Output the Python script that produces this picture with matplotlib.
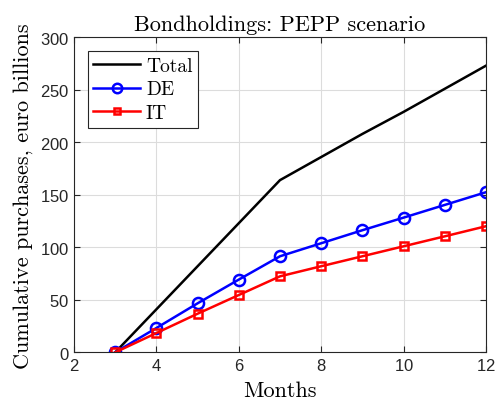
import numpy as np
import matplotlib
matplotlib.use("Agg")
from matplotlib import pyplot as plt

# monthly cumulative purchases, euro billions
months = [3, 4, 5, 6, 7, 8, 9, 10, 11, 12]
total = [0, 41, 82, 123, 164, 186, 208, 229, 251, 273]
de = [0, 23.2, 46.7, 69.3, 91.5, 103.9, 116.3, 128.3, 140.4, 152.5]
it = [0, 18.4, 36.8, 54.6, 72.4, 82.0, 91.5, 101.0, 110.5, 120.1]

plt.rcParams['mathtext.fontset'] = 'cm'
plt.rcParams['axes.formatter.use_mathtext'] = True
serif = {'family': 'cmr10'}

fig = plt.figure(figsize=(4.95, 4.02), dpi=100)
ax = fig.add_axes([0.1495, 0.121, 0.8323, 0.7837])

ax.plot(months, total, color='k', lw=1.8, label='Total')
ax.plot(months, de, color='#0000ff', lw=1.8, marker='o', ms=8,
        mfc='none', mew=1.8, label='DE')
ax.plot(months, it, color='#ff0000', lw=1.8, marker='s', ms=5.5,
        mfc='none', mew=1.8, label='IT')

ax.set_xlim(2, 12)
ax.set_ylim(0, 300)
ax.set_xticks([2, 4, 6, 8, 10, 12])
ax.set_yticks(np.arange(0, 301, 50))
ax.grid(True, color='#dcdcdc', lw=0.8)
ax.set_axisbelow(True)
ax.tick_params(direction='in', top=True, right=True, length=4,
               labelsize=12, colors='#262626')
for lab in ax.get_xticklabels() + ax.get_yticklabels():
    lab.set_family('Liberation Sans')
for s in ax.spines.values():
    s.set_color('#262626')
    s.set_linewidth(0.8)

ax.set_title('Bondholdings: PEPP scenario', fontdict=serif, fontsize=16, pad=5)
ax.set_xlabel('Months', fontdict=serif, fontsize=16, labelpad=5)
ax.set_ylabel('Cumulative purchases, euro billions', fontdict=serif,
              fontsize=16, labelpad=5)

leg = ax.legend(loc='upper left', prop={'family': 'cmr10', 'size': 14},
                fancybox=False, framealpha=1, edgecolor='#262626',
                borderpad=0.3, labelspacing=0.3, handlelength=2.4,
                handletextpad=0.3, borderaxespad=0.7, markerscale=0.85)
leg.get_frame().set_linewidth(0.8)

fig.savefig('out.png', dpi=100)
